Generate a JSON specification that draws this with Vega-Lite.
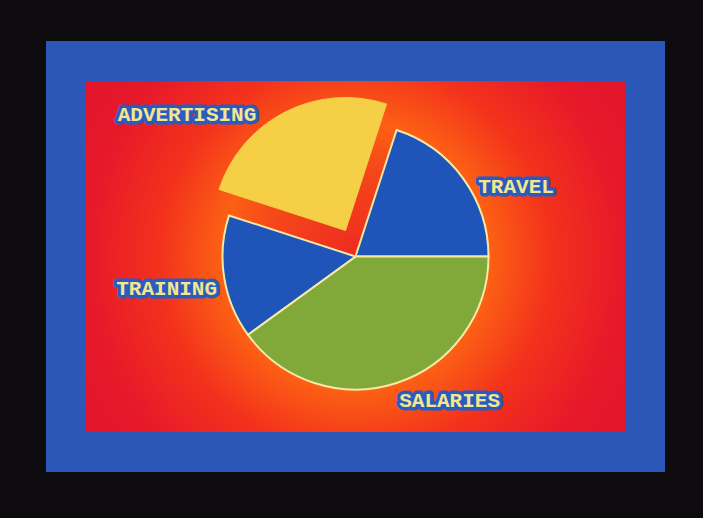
{
  "$schema": "https://vega.github.io/schema/vega-lite/v6.json",
  "width": 579,
  "height": 391,
  "autosize": {"type": "none"},
  "padding": {"left": 66, "top": 61, "right": 58, "bottom": 66},
  "background": "#0d0b0e",
  "view": {
    "fill": {
      "gradient": "radial",
      "x1": 0.5, "y1": 0.5, "r1": 0,
      "x2": 0.5, "y2": 0.5, "r2": 0.75,
      "stops": [
        {"offset": 0, "color": "#ee2a20"},
        {"offset": 0.2, "color": "#f5461a"},
        {"offset": 0.31, "color": "#fc6014"},
        {"offset": 0.45, "color": "#f3321c"},
        {"offset": 0.62, "color": "#e6182a"},
        {"offset": 1, "color": "#dd0f30"}
      ]
    },
    "stroke": "#2b58b8",
    "strokeWidth": 40
  },
  "data": {
    "values": [
      {"category": "TRAVEL", "share": 20},
      {"category": "SALARIES", "share": 40},
      {"category": "TRAINING", "share": 15},
      {"category": "ADVERTISING", "share": 25}
    ]
  },
  "transform": [
    {"window": [{"op": "row_number", "as": "rank"}]},
    {"stack": "share", "groupby": [], "sort": [{"field": "rank", "order": "ascending"}], "as": ["s0", "s1"]},
    {"calculate": "(datum.s0 + datum.s1) / 2", "as": "mid"}
  ],
  "layer": [
    {
      "transform": [{"filter": "datum.category != 'ADVERTISING'"}],
      "mark": {"type": "arc", "radius": 133, "stroke": "#f6e9a6", "strokeWidth": 2},
      "encoding": {
        "theta": {"field": "s0", "type": "quantitative", "scale": {"domain": [0, 100], "range": [0.314, 6.597]}},
        "theta2": {"field": "s1"},
        "color": {
          "field": "category", "type": "nominal", "legend": null,
          "scale": {"domain": ["TRAVEL", "SALARIES", "TRAINING", "ADVERTISING"], "range": ["#1f55b8", "#80a93a", "#1f55b8", "#f5cf45"]}
        }
      }
    },
    {
      "transform": [{"filter": "datum.category == 'ADVERTISING'"}],
      "mark": {"type": "arc", "radius": 133, "xOffset": -10, "yOffset": -26, "stroke": "#f5cf45", "strokeWidth": 1},
      "encoding": {
        "theta": {"field": "s0", "type": "quantitative", "scale": {"domain": [0, 100], "range": [0.314, 6.597]}},
        "theta2": {"field": "s1"},
        "color": {"field": "category", "type": "nominal", "legend": null}
      }
    },
    {
      "transform": [{"filter": "datum.category == 'TRAVEL'"}],
      "layer": [
        {"mark": {"type": "text", "radius": 175, "dx": 19, "dy": 33, "font": "Liberation Mono", "fontWeight": "bold", "fontSize": 21, "fill": "#2a5cc0", "stroke": "#2a5cc0", "strokeWidth": 7, "strokeJoin": "round"}},
        {"mark": {"type": "text", "radius": 175, "dx": 19, "dy": 33, "font": "Liberation Mono", "fontWeight": "bold", "fontSize": 21, "fill": "#f4e68c"}}
      ],
      "encoding": {"theta": {"field": "mid", "type": "quantitative"}, "text": {"field": "category"}}
    },
    {
      "transform": [{"filter": "datum.category == 'SALARIES'"}],
      "layer": [
        {"mark": {"type": "text", "radius": 175, "dx": 40, "dy": -22, "font": "Liberation Mono", "fontWeight": "bold", "fontSize": 21, "fill": "#2a5cc0", "stroke": "#2a5cc0", "strokeWidth": 7, "strokeJoin": "round"}},
        {"mark": {"type": "text", "radius": 175, "dx": 40, "dy": -22, "font": "Liberation Mono", "fontWeight": "bold", "fontSize": 21, "fill": "#f4e68c"}}
      ],
      "encoding": {"theta": {"field": "mid", "type": "quantitative"}, "text": {"field": "category"}}
    },
    {
      "transform": [{"filter": "datum.category == 'TRAINING'"}],
      "layer": [
        {"mark": {"type": "text", "radius": 175, "dx": -16, "dy": 5, "font": "Liberation Mono", "fontWeight": "bold", "fontSize": 21, "fill": "#2a5cc0", "stroke": "#2a5cc0", "strokeWidth": 7, "strokeJoin": "round"}},
        {"mark": {"type": "text", "radius": 175, "dx": -16, "dy": 5, "font": "Liberation Mono", "fontWeight": "bold", "fontSize": 21, "fill": "#f4e68c"}}
      ],
      "encoding": {"theta": {"field": "mid", "type": "quantitative"}, "text": {"field": "category"}}
    },
    {
      "transform": [{"filter": "datum.category == 'ADVERTISING'"}],
      "layer": [
        {"mark": {"type": "text", "radius": 175, "dx": -89, "dy": 14, "font": "Liberation Mono", "fontWeight": "bold", "fontSize": 21, "fill": "#2a5cc0", "stroke": "#2a5cc0", "strokeWidth": 7, "strokeJoin": "round"}},
        {"mark": {"type": "text", "radius": 175, "dx": -89, "dy": 14, "font": "Liberation Mono", "fontWeight": "bold", "fontSize": 21, "fill": "#f4e68c"}}
      ],
      "encoding": {"theta": {"field": "mid", "type": "quantitative"}, "text": {"field": "category"}}
    }
  ]
}
